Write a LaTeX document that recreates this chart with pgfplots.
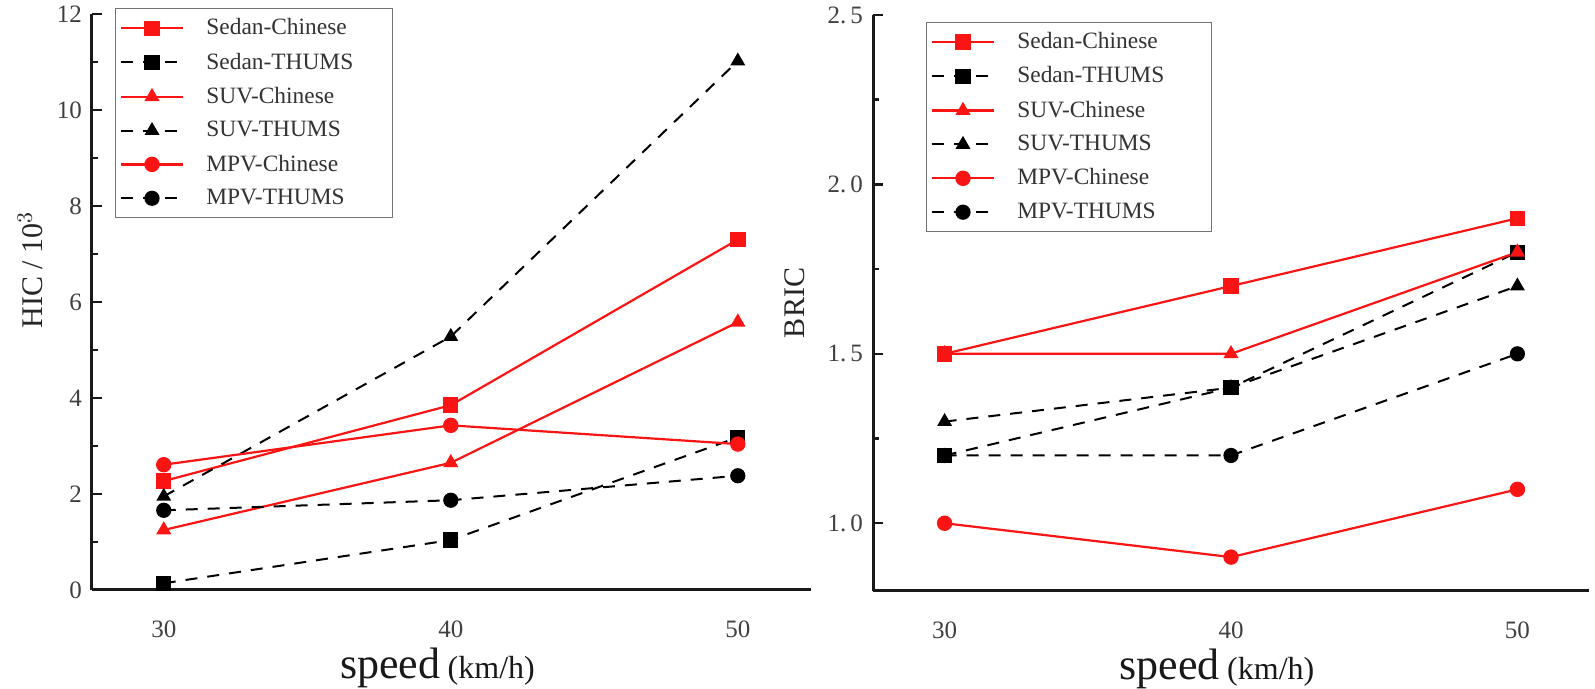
\documentclass[border=0pt]{standalone}
\usepackage{fontspec}
\setmainfont{Liberation Serif}
\usepackage{pgfplots}
\pgfplotsset{compat=1.18}
\definecolor{myred}{RGB}{250,20,20}
\pgfplotsset{
  base/.style={
    scale only axis,
    width=358pt, height=288pt,
    axis x line=bottom, axis y line=left,
    axis line style={-, line width=1.5pt, black!90},
    xmin=27.5, xmax=52.5,
    xtick={30,40,50},
    x tick style={draw=none},
    y tick style={line width=1.2pt, black!90},
    tick align=inside,
    major tick length=5pt, minor tick length=3pt,
    tick label style={font=\fontsize{12.5}{14}\selectfont, text=black!75},
    /pgf/number format/assume math mode=true,
    xticklabel style={yshift=-12pt},
    yticklabel style={xshift=-1.5pt},
    xlabel={\fontsize{22}{24}\selectfont speed\,\fontsize{16}{18}\selectfont (km/h)},
    xlabel style={yshift=2pt, xshift=-7pt, text=black!90},
    ylabel style={font=\fontsize{15}{17}\selectfont, text=black!85, anchor=center},
    legend cell align=left,
    legend style={draw=black!55, line width=0.6pt, font=\fontsize{11.7}{13}\selectfont, text=black!80,
      row sep=3.5pt, inner xsep=2pt, inner ysep=3pt,
      /tikz/every odd column/.append style={column sep=9pt}},
    legend image code/.code={\draw[mark repeat=2,mark phase=2,#1] plot coordinates {(0cm,0cm)(0.55cm,0cm)(1.1cm,0cm)};},
    clip=false,
  },
  rs/.style={myred, line width=1.1pt, solid, mark size=3.3pt, mark options={solid, fill=myred}},
  bd/.style={black, line width=1pt, dash pattern=on 6pt off 5pt, mark size=3.3pt, mark options={solid, fill=black}},
}
\newcommand{\LA}[1]{\makebox[89pt][l]{#1}}
\newcommand{\LB}[1]{\makebox[93pt][l]{#1}}
\begin{document}
\begin{tikzpicture}
\useasboundingbox (0,0) rectangle (797.5pt,344.5pt);
\begin{axis}[base,
  width=359.5pt, xmax=52.55,
  at={(46pt,49.5pt)}, anchor=south west,
  ymin=0, ymax=12, ytick={0,2,4,6,8,10,12}, minor ytick={1,3,5,7,9,11},
  ylabel={HIC / 10$^{3}$},
  ylabel style={at={(axis description cs:-0.086,0.556)}},
  legend style={at={(0.032,1.0104)}, anchor=north west},
]
\addplot[rs, mark=square*] coordinates {(30,2.27) (40,3.85) (50,7.3)};
\addlegendentry{\LA{Sedan-Chinese}}
\addplot[bd, mark=square*] coordinates {(30,0.14) (40,1.04) (50,3.18)};
\addlegendentry{\LA{Sedan-THUMS}}
\addplot[rs, mark=triangle*] coordinates {(30,1.25) (40,2.65) (50,5.58)};
\addlegendentry{\LA{SUV-Chinese}}
\addplot[bd, mark=triangle*] coordinates {(30,1.95) (40,5.28) (50,11.02)};
\addlegendentry{\LA{SUV-THUMS}}
\addplot[rs, mark=*] coordinates {(30,2.61) (40,3.43) (50,3.04)};
\addlegendentry{\LA{MPV-Chinese}}
\addplot[bd, mark=*] coordinates {(30,1.66) (40,1.87) (50,2.38)};
\addlegendentry{\LA{MPV-THUMS}}
\end{axis}
\begin{axis}[base,
  at={(436.5pt,49pt)}, anchor=south west,
  ymin=0.8, ymax=2.5, ytick={1,1.5,2,2.5}, minor ytick={1.25,1.75,2.25},
  yticklabels={1.\,0,1.\,5,2.\,0,2.\,5},
  ylabel={BRIC},
  ylabel style={at={(axis description cs:-0.109,0.5)}},
  legend style={at={(0.074,0.988)}, anchor=north west},
]
\addplot[rs, mark=square*] coordinates {(30,1.5) (40,1.7) (50,1.9)};
\addlegendentry{\LB{Sedan-Chinese}}
\addplot[bd, mark=square*] coordinates {(30,1.2) (40,1.4) (50,1.8)};
\addlegendentry{\LB{Sedan-THUMS}}
\addplot[rs, mark=triangle*] coordinates {(30,1.5) (40,1.5) (50,1.8)};
\addlegendentry{\LB{SUV-Chinese}}
\addplot[bd, mark=triangle*] coordinates {(30,1.3) (40,1.4) (50,1.7)};
\addlegendentry{\LB{SUV-THUMS}}
\addplot[rs, mark=*] coordinates {(30,1.0) (40,0.9) (50,1.1)};
\addlegendentry{\LB{MPV-Chinese}}
\addplot[bd, mark=*] coordinates {(30,1.2) (40,1.2) (50,1.5)};
\addlegendentry{\LB{MPV-THUMS}}
\end{axis}
\end{tikzpicture}
\end{document}
